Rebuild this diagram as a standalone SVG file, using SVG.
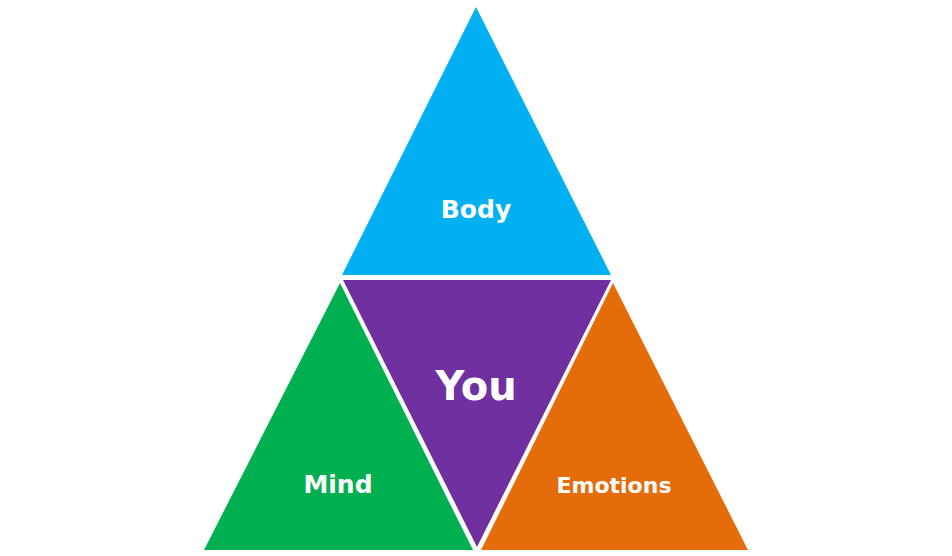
<svg xmlns="http://www.w3.org/2000/svg" width="952" height="556" viewBox="0 0 952 556">
<style>
.lbl{font-family:"DejaVu Sans",Verdana,sans-serif;font-weight:bold;fill:#fff;text-anchor:middle}
</style>
<rect width="952" height="556" fill="#fff"/>
<g id="body">
<polygon points="476,7 611,275 342,275" fill="#00B0F0"/>
<text class="lbl" x="476" y="218" font-size="25">Body</text>
</g>
<g id="you">
<polygon points="343,280 611,280 477,547" fill="#7030A0"/>
<text class="lbl" x="476" y="400" font-size="40">You</text>
</g>
<g id="mind">
<polygon points="340,283 473,550 204,550" fill="#00B050"/>
<text class="lbl" x="338" y="493" font-size="25">Mind</text>
</g>
<g id="emotions">
<polygon points="613,283 748,550 481,550" fill="#E46C0A"/>
<text class="lbl" x="614" y="493" font-size="22">Emotions</text>
</g>
<g id="connectors"/>
</svg>
